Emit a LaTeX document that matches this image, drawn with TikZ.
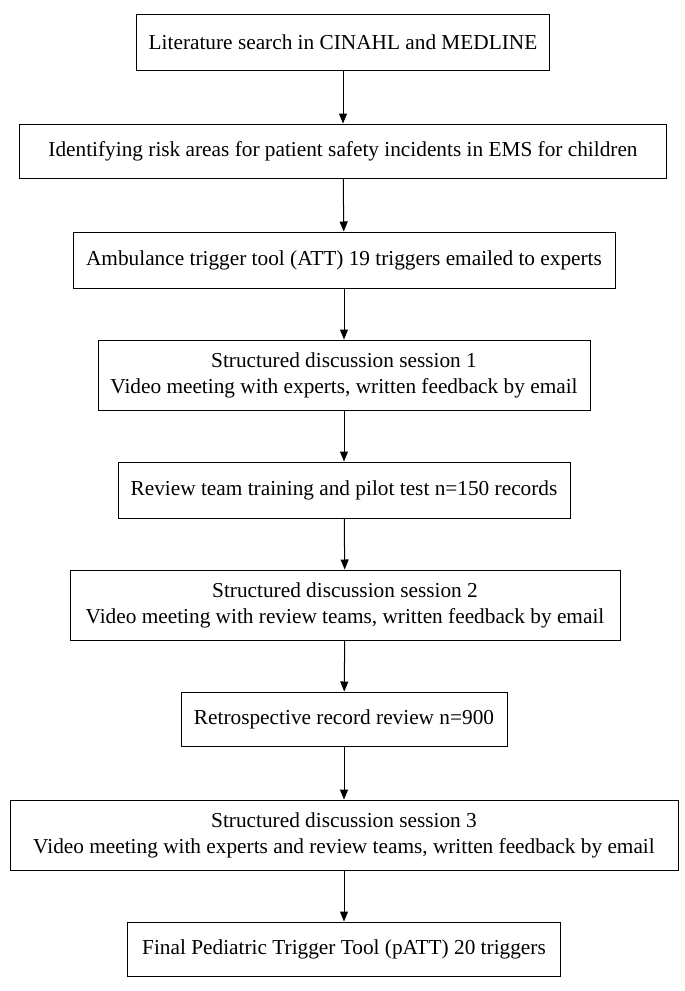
\documentclass[tikz,border=0pt]{standalone}
\usepackage{fontspec}
\setmainfont{Liberation Serif}
\usetikzlibrary{arrows.meta}
\begin{document}
\begin{tikzpicture}[x=1pt,y=-1pt,
  box/.style={draw,line width=1pt,align=center,inner sep=0pt,font=\fontsize{21.3}{26}\selectfont},
  arr/.style={-{Triangle[length=10pt,width=8pt]},line width=1pt}]
\useasboundingbox (0,0) rectangle (685,991);
\node[box,minimum width=413pt,minimum height=56pt] (a) at (343,42) {Literature search in CINAHL and MEDLINE};
\node[box,minimum width=647pt,minimum height=54pt] (b) at (343,151) {Identifying risk areas for patient safety incidents in EMS for children};
\node[box,minimum width=542pt,minimum height=56pt] (c) at (344,260) {Ambulance trigger tool (ATT) 19 triggers emailed to experts};
\node[box,minimum width=492pt,minimum height=70pt] (d) at (344,375) {Structured discussion session 1\\Video meeting with experts, written feedback by email};
\node[box,minimum width=452pt,minimum height=56pt] (e) at (344,490) {Review team training and pilot test n=150 records};
\node[box,minimum width=550pt,minimum height=70pt] (f) at (345,605) {Structured discussion session 2\\Video meeting with review teams, written feedback by email};
\node[box,minimum width=326pt,minimum height=54pt] (g) at (344,719) {Retrospective record review n=900};
\node[box,minimum width=668pt,minimum height=70pt] (h) at (344,835) {Structured discussion session 3\\Video meeting with experts and review teams, written feedback by email};
\node[box,minimum width=433pt,minimum height=54pt] (i) at (344,949) {Final Pediatric Trigger Tool (pATT) 20 triggers};
\foreach \p/\q in {a/b,b/c,c/d,d/e,e/f,f/g,g/h,h/i} \draw[arr] (\p) -- (\q);
\end{tikzpicture}
\end{document}
